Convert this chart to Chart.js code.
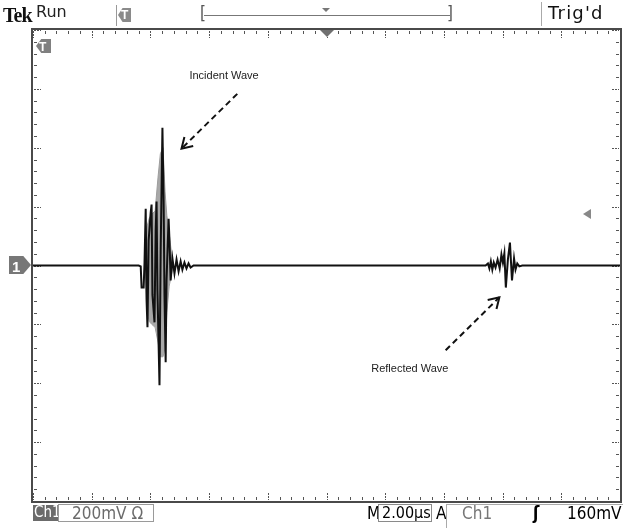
<!DOCTYPE html>
<html lang="en">
<head>
<meta charset="UTF-8">
<title>Incident and reflected wave</title>
<script src="https://cdn.jsdelivr.net/npm/chart.js@4.4.1/dist/chart.umd.min.js"></script>
<style>
    body { margin: 0; padding: 0; background: #fff; }
    #wrap {
        position: relative; width: 623px; height: 528px; overflow: hidden;
        font-family: "DejaVu Sans Condensed", "Liberation Sans Narrow", "Liberation Sans", sans-serif;
        font-stretch: condensed;
    }
    #chart { position: absolute; left: 0; top: 0; }
    .t { position: absolute; white-space: nowrap; line-height: 1; }
    .hd { font-family: "DejaVu Sans", "Liberation Sans", sans-serif; font-stretch: normal; }
    .note { position: absolute; white-space: nowrap; line-height: 1; font: 11px "Liberation Sans", Arial, sans-serif; color: #222; transform: translate(-50%, -50%); }
    .box { position: absolute; box-sizing: border-box; }
</style>
<script>
    // time in µs (trigger at 0, 2 µs/div), voltage in mV (200 mV/div)
    const traceTime = [-10, -6.40, -6.33, -6.30, -6.23, -6.20, -6.16, -6.13, -6.10, -6.06,
        -5.99, -5.96, -5.93, -5.86, -5.82, -5.79, -5.76, -5.69, -5.65, -5.59,
        -5.55, -5.52, -5.48, -5.45, -5.38, -5.35, -5.31, -5.25, -5.18, -5.11,
        -5.04, -4.97, -4.91, -4.84, -4.77, -4.70, -4.63, -4.53,
        5.42, 5.50, 5.55, 5.60, 5.65, 5.70, 5.76, 5.83, 5.90, 5.96,
        6.01, 6.06, 6.11, 6.18, 6.25, 6.32, 6.39, 6.44, 6.50, 6.57, 6.67, 10];
    const traceMv = [0, 0, -3, -75, -75, 10, 193, -119, -210, 85,
        180, 207, -100, -193, 119, 217, -85, -407, 51, 468,
        220, -100, -329, -51, 159, 85, -51, 24, -27, 20,
        -20, 14, -14, 10, -10, 7, -7, 0,
        0, 7, -10, 14, -14, 10, -7, 20, -10, 37,
        10, 41, -75, 20, 78, -51, 24, -14, 7, -3, 0, 0];

    // unresolved fast oscillation inside the incident burst (grey area)
    const bandTime = [-6.18, -6.12, -6.04, -5.95, -5.84, -5.74, -5.66, -5.57, -5.50, -5.44, -5.36, -5.28, -5.22];
    const bandHigh = [0, 130, 160, 175, 185, 300, 380, 400, 250, 170, 110, 40, 0];
    const bandLow = [0, -150, -190, -200, -210, -260, -310, -310, -280, -160, -70, -30, 0];

    const xMin = -10, xMax = 10, xDiv = 2;
    const yMin = -800, yMax = 800, yDiv = 200;

    // annotation: label position, arrow tail, arrow tip (µs, mV)
    const notes = [
        { id: 'incident', label: [-3.49, 647], from: [-3.04, 583], to: [-4.94, 397] },
        { id: 'reflected', label: [2.84, -348], from: [4.06, -288], to: [5.89, -108] }
    ];
</script>
</head>
<body>
<div id="wrap">
    <canvas id="chart" width="623" height="528"></canvas>

    <!-- header -->
    <div class="t" style="left:3px;top:4px;font:bold 20px 'Liberation Serif',serif;letter-spacing:-1px;color:#111">Tek</div>
    <div class="t hd" style="left:36px;top:4px;font-size:16px;color:#222">Run</div>
    <div class="box" style="left:116px;top:5px;width:1px;height:21px;background:#999"></div>
    <div class="box" style="left:118px;top:8px;width:13px;height:14px;background:#8a8a8a;clip-path:polygon(0 50%,35% 0,100% 0,100% 100%,35% 100%)"></div>
    <div class="t" style="left:121px;top:8px;font:bold 12px 'Liberation Sans',sans-serif;color:#fff">T</div>
    <div class="t" style="left:200px;top:5px;font-size:17px;color:#555">[</div>
    <div class="box" style="left:204px;top:15px;width:246px;height:1px;background:#777"></div>
    <div class="t" style="left:447px;top:5px;font-size:17px;color:#555">]</div>
    <div class="box" style="left:322px;top:8px;width:0;height:0;border-left:4px solid transparent;border-right:4px solid transparent;border-top:4px solid #777"></div>
    <div class="box" style="left:541px;top:2px;width:1px;height:24px;background:#aaa"></div>
    <div class="t hd" style="left:548px;top:4px;font-size:18px;letter-spacing:1.2px;color:#111">Trig'd</div>

    <!-- screen markers -->
    <div class="box" style="left:9px;top:256px;width:22px;height:18px;background:#777;clip-path:polygon(0 0,65% 0,100% 50%,65% 100%,0 100%)"></div>
    <div class="t" style="left:12px;top:258px;font:bold 15px 'Liberation Sans',sans-serif;color:#fff">1</div>
    <div class="box" style="left:36px;top:39px;width:15px;height:14px;background:#808080;clip-path:polygon(0 50%,35% 0,100% 0,100% 100%,35% 100%)"></div>
    <div class="t" style="left:39px;top:40px;font:bold 12px 'Liberation Sans',sans-serif;color:#fff">T</div>
    <div class="box" style="left:320px;top:30px;width:0;height:0;border-left:7px solid transparent;border-right:7px solid transparent;border-top:7px solid #707070"></div>
    <div class="box" style="left:583px;top:209px;width:0;height:0;border-top:5px solid transparent;border-bottom:5px solid transparent;border-right:8px solid #888"></div>

    <!-- annotations, placed by the plugin -->
    <div class="note" id="note-incident">Incident Wave</div>
    <div class="note" id="note-reflected">Reflected Wave</div>

    <!-- footer -->
    <div class="box" style="left:33px;top:505px;width:25px;height:16px;background:#6b6b6b"></div>
    <div class="t" style="left:34px;top:505px;font-size:15px;color:#fff">Ch1</div>
    <div class="box" style="left:58px;top:504px;width:96px;height:18px;border:1px solid #9a9a9a"></div>
    <div class="t" style="left:72px;top:505px;font-size:17px;color:#6b6b6b">200mV Ω</div>
    <div class="t" style="left:367px;top:505px;font-size:17px;color:#000">M</div>
    <div class="box" style="left:378px;top:504px;width:54px;height:18px;border:1px solid #8a8a8a"></div>
    <div class="t" style="left:382px;top:505px;font-size:16px;color:#000">2.00µs</div>
    <div class="t" style="left:436px;top:505px;font-size:17px;color:#000">A</div>
    <div class="box" style="left:446px;top:504px;width:180px;height:26px;border-left:1px solid #aaa;border-top:1px solid #aaa"></div>
    <div class="t" style="left:462px;top:505px;font-size:17px;color:#777">Ch1</div>
    <div class="t" style="left:533px;top:505px;font-size:17px;font-weight:bold;color:#000">ʃ</div>
    <div class="t" style="left:567px;top:505px;font-size:17px;color:#000">160mV</div>
</div>

<script>
    function line(ctx, x1, y1, x2, y2) {
        ctx.beginPath();
        ctx.moveTo(x1, y1);
        ctx.lineTo(x2, y2);
        ctx.stroke();
    }

    const graticule = {
        id: 'graticule',
        beforeDatasetsDraw(chart) {
            const { ctx, chartArea: a, scales: { x, y } } = chart;
            ctx.save();
            ctx.strokeStyle = '#555';
            ctx.lineWidth = 1;
            const nx = (xMax - xMin) / xDiv * 5;
            for (let i = 0; i <= nx; i++) {
                const px = Math.round(x.getPixelForValue(xMin + i * xDiv / 5)) + 0.5;
                const major = i % 5 === 0;
                ctx.setLineDash(major ? [2, 1] : []);
                const len = major ? 7 : 3;
                line(ctx, px, a.top + 1, px, a.top + 1 + len);
                line(ctx, px, a.bottom - 1 - len, px, a.bottom - 1);
            }
            const ny = (yMax - yMin) / yDiv * 5;
            for (let j = 0; j <= ny; j++) {
                const py = Math.round(y.getPixelForValue(yMin + j * yDiv / 5)) + 0.5;
                const major = j % 5 === 0;
                ctx.setLineDash(major ? [2, 1] : []);
                const len = major ? 7 : 3;
                line(ctx, a.left + 1, py, a.left + 1 + len, py);
                line(ctx, a.right - 1 - len, py, a.right - 1, py);
            }
            ctx.restore();
        },
        afterDatasetsDraw(chart) {
            const { ctx, chartArea: a, scales: { x, y } } = chart;
            ctx.save();
            // screen frame
            ctx.strokeStyle = '#4a4a4a';
            ctx.lineWidth = 2;
            ctx.strokeRect(a.left - 1, a.top - 1, a.right - a.left + 2, a.bottom - a.top + 2);

            // dashed arrows
            ctx.strokeStyle = '#111';
            ctx.lineWidth = 2;
            notes.forEach(n => {
                const x1 = x.getPixelForValue(n.from[0]), y1 = y.getPixelForValue(n.from[1]);
                const x2 = x.getPixelForValue(n.to[0]), y2 = y.getPixelForValue(n.to[1]);
                ctx.setLineDash([6, 4]);
                line(ctx, x1, y1, x2, y2);
                ctx.setLineDash([]);
                const ang = Math.atan2(y1 - y2, x1 - x2);
                ctx.beginPath();
                ctx.moveTo(x2 + 12 * Math.cos(ang + 0.55), y2 + 12 * Math.sin(ang + 0.55));
                ctx.lineTo(x2, y2);
                ctx.lineTo(x2 + 12 * Math.cos(ang - 0.55), y2 + 12 * Math.sin(ang - 0.55));
                ctx.stroke();

                const el = document.getElementById('note-' + n.id);
                el.style.left = x.getPixelForValue(n.label[0]) + 'px';
                el.style.top = y.getPixelForValue(n.label[1]) + 'px';
            });
            ctx.restore();
        }
    };

    const toPoints = (xs, ys) => xs.map((v, i) => ({ x: v, y: ys[i] }));

    new Chart(document.getElementById('chart'), {
        type: 'line',
        data: {
            datasets: [
                {
                    label: 'Ch1',
                    data: toPoints(traceTime, traceMv),
                    borderColor: '#111',
                    borderWidth: 2,
                    pointRadius: 0,
                    tension: 0,
                    fill: false,
                    order: 0
                },
                {
                    label: 'burst high',
                    data: toPoints(bandTime, bandHigh),
                    borderColor: '#9c9c9c',
                    borderWidth: 1,
                    backgroundColor: '#a8a8a8',
                    pointRadius: 0,
                    fill: '+1',
                    order: 1
                },
                {
                    label: 'burst low',
                    data: toPoints(bandTime, bandLow),
                    borderColor: '#9c9c9c',
                    borderWidth: 1,
                    pointRadius: 0,
                    fill: false,
                    order: 2
                }
            ]
        },
        options: {
            responsive: false,
            animation: false,
            events: [],
            layout: { padding: { left: 33, right: 3, top: 30, bottom: 27 } },
            scales: {
                x: { type: 'linear', min: xMin, max: xMax, display: false },
                y: { min: yMin, max: yMax, display: false }
            },
            plugins: { legend: { display: false }, tooltip: { enabled: false } }
        },
        plugins: [graticule]
    });
</script>
</body>
</html>
